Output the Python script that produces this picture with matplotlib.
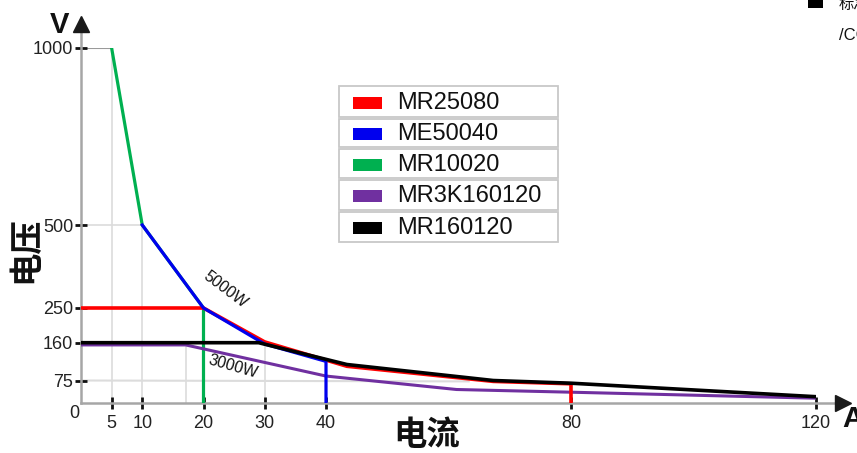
import numpy as np
import matplotlib
matplotlib.use('Agg')
import matplotlib.pyplot as plt
from matplotlib.patches import Rectangle

# ---------------- data ----------------
series_names = ['MR25080', 'ME50040', 'MR10020', 'MR3K160120', 'MR160120']
series_colors = ['#FF0000', '#0000EE', '#00B050', '#7030A0', '#000000']

mr25080_a = [0, 20, 30, 43.4, 67.3, 80, 80]
mr25080_v = [250, 250, 162, 107, 72, 64, 0]
me50040_a = [10, 20, 30, 40, 40]
me50040_v = [500, 250, 157, 118, 0]
mr10020_a = [5, 10, 20, 20]
mr10020_v = [1000, 500, 250, 0]
mr3k160120_a = [0, 17.1, 40, 61.3, 80, 120]
mr3k160120_v = [155, 155, 85, 45, 36, 16]
mr160120_a = [0, 29, 43.4, 67.3, 80, 120]
mr160120_v = [160, 160, 111, 75, 66, 21]

x_ticks = [5, 10, 20, 30, 40, 80, 120]
y_ticks = [75, 160, 250, 500, 1000]
power_labels = ['5000W', '3000W']
x_label = '电流'
y_label = '电压'

# ---------------- layout ----------------
W, H = 857, 453
plt.rcParams['font.family'] = ['Liberation Sans', 'Noto Sans CJK SC', 'DejaVu Sans']

fig = plt.figure(figsize=(W / 100, H / 100), dpi=100)
fig.patch.set_facecolor('white')

def fx(px):
    return px / W

def fy(py):
    return 1 - py / H

x0, x1 = 81, 816      # pixel of 0 A and 120 A
yb, yt = 403, 48      # pixel of 0 V and 1000 V
ax = fig.add_axes([fx(x0), fy(yb), (x1 - x0) / W, (yb - yt) / H])

# schematic (piecewise) voltage scale as in the reference
sc_v = np.array([-1000, 0, 75, 160, 250, 500, 1000, 3000], dtype=float)
sc_h = np.array([-355, 0, 22.5, 60.3, 95, 178, 355, 1063], dtype=float)

def fwd(v):
    return np.interp(v, sc_v, sc_h)

def inv(h):
    return np.interp(h, sc_h, sc_v)

ax.set_yscale('function', functions=(fwd, inv))
ax.set_xlim(0, 120)
ax.set_ylim(0, 1000)
for s in ax.spines.values():
    s.set_visible(False)
ax.set_facecolor('none')

# guide lines
gcol = '#dcdcdc'
ax.plot([mr10020_a[0], mr10020_a[0]], [0, mr10020_v[0]], color=gcol, lw=1.2, zorder=1)
ax.plot([0, mr10020_a[0]], [mr10020_v[0], mr10020_v[0]], color='#9a9a9a', lw=1.5, zorder=1)
ax.plot([mr10020_a[1], mr10020_a[1]], [0, mr10020_v[1]], color=gcol, lw=1.2, zorder=1)
ax.plot([0, mr10020_a[1]], [mr10020_v[1], mr10020_v[1]], color=gcol, lw=1.2, zorder=1)
ax.plot([mr3k160120_a[1], mr3k160120_a[1]], [0, mr3k160120_v[1]], color=gcol, lw=1.2, zorder=1)
ax.plot([mr160120_a[1] + 1, mr160120_a[1] + 1], [0, mr160120_v[1]], color=gcol, lw=1.2, zorder=1)
ax.plot([0, mr3k160120_a[3] + 2], [y_ticks[0], y_ticks[0] - 3], color=gcol, lw=1.5, zorder=1)

# series
ax.plot(mr10020_a, mr10020_v, color=series_colors[2], lw=2.3, zorder=3, solid_joinstyle='miter')
ax.plot(mr3k160120_a, mr3k160120_v, color=series_colors[3], lw=2.2, zorder=3)
ax.plot(mr25080_a, mr25080_v, color=series_colors[0], lw=2.6, zorder=4, solid_joinstyle='miter')
ax.plot(me50040_a, me50040_v, color=series_colors[1], lw=2.3, zorder=5, solid_joinstyle='miter')
ax.plot(mr160120_a, mr160120_v, color=series_colors[4], lw=2.6, zorder=6)

# axes lines with arrows
acol = '#a6a6a6'
ax.plot([0, 0], [0, 1.075], transform=ax.transAxes, color=acol, lw=1.8, clip_on=False, zorder=2)
ax.plot([0, 1.035], [0, 0], transform=ax.transAxes, color=acol, lw=1.8, clip_on=False, zorder=2)
ax.plot([0], [(yb - 24) / (yb - yt)], transform=ax.transAxes, marker='^', ms=11,
        color='#1a1a1a', clip_on=False, zorder=7)
ax.plot([(843 - x0) / (x1 - x0)], [0], transform=ax.transAxes, marker='>', ms=11,
        color='#1a1a1a', clip_on=False, zorder=7)

# ticks
ax.set_xticks(x_ticks)
ax.set_xticklabels([str(t) for t in x_ticks])
ax.set_yticks(y_ticks)
ax.set_yticklabels([str(t) for t in y_ticks])
ax.minorticks_off()
ax.tick_params(axis='both', direction='inout', length=9, width=2, color='#111111',
               labelsize=13, labelcolor='#222222')
ax.tick_params(axis='x', pad=4)
ax.tick_params(axis='y', pad=1)
for t in ax.get_xticklabels() + ax.get_yticklabels():
    t.set_zorder(8)

fig.text(fx(74), fy(414), '0', ha='center', va='center', fontsize=13, color='#222222')

# axis titles
fig.text(fx(59), fy(25), 'V', ha='center', va='center', fontsize=21, fontweight='bold',
         color='#111111')
fig.text(fx(842), fy(419), 'A', ha='left', va='center', fontsize=21, fontweight='bold',
         color='#111111')
fig.text(fx(26), fy(250), y_label, ha='center', va='center', rotation=90, fontsize=24,
         fontweight='bold', family=['Noto Sans CJK SC', 'DejaVu Sans'], color='#111111')
fig.text(fx(427), fy(436), x_label, ha='center', va='center', fontsize=24,
         fontweight='bold', family=['Noto Sans CJK SC', 'DejaVu Sans'], color='#111111')

# power annotations
fig.text(fx(225), fy(290), power_labels[0], ha='center', va='center', rotation=-37,
         fontsize=11.5, color='#111111', rotation_mode='anchor')
fig.text(fx(233), fy(367), power_labels[1], ha='center', va='center', rotation=-16,
         fontsize=11.5, color='#111111', rotation_mode='anchor')

# legend as a table of bordered rows
lx0, lx1 = 339, 558
row_edges = [86, 117.7, 148.3, 179.3, 210.7, 243.3]
for i, (name, col) in enumerate(zip(series_names, series_colors)):
    top, bot = row_edges[i], row_edges[i + 1]
    g = 1.0 if 0 < i else 0
    rect = Rectangle((fx(lx0), fy(bot - 1.0)), (lx1 - lx0) / W, (bot - top - 1.0 - g) / H,
                     transform=fig.transFigure, facecolor='white', edgecolor='#c8c8c8',
                     lw=1.3, zorder=10)
    fig.add_artist(rect)
    cy = (top + bot) / 2 + 1
    patch = Rectangle((fx(353), fy(cy + 6)), 29 / W, 12 / H, transform=fig.transFigure,
                      facecolor=col, edgecolor='none', zorder=11)
    fig.add_artist(patch)
    fig.text(fx(397), fy(cy), name, ha='left', va='center', fontsize=17, color='#111111',
             zorder=12)

# clipped text at top right corner (cut off in the reference as well)
fig.add_artist(Rectangle((fx(808), fy(8)), 15 / W, 9 / H, transform=fig.transFigure,
                         facecolor='black', edgecolor='none'))
fig.text(fx(839), fy(4), '标准', ha='left', va='center', fontsize=11,
         family=['Noto Sans CJK SC', 'DejaVu Sans'], color='#111111')
fig.text(fx(839), fy(35), '/CC', ha='left', va='center', fontsize=12, color='#111111')

fig.savefig('out.png', dpi=100, facecolor='white')
